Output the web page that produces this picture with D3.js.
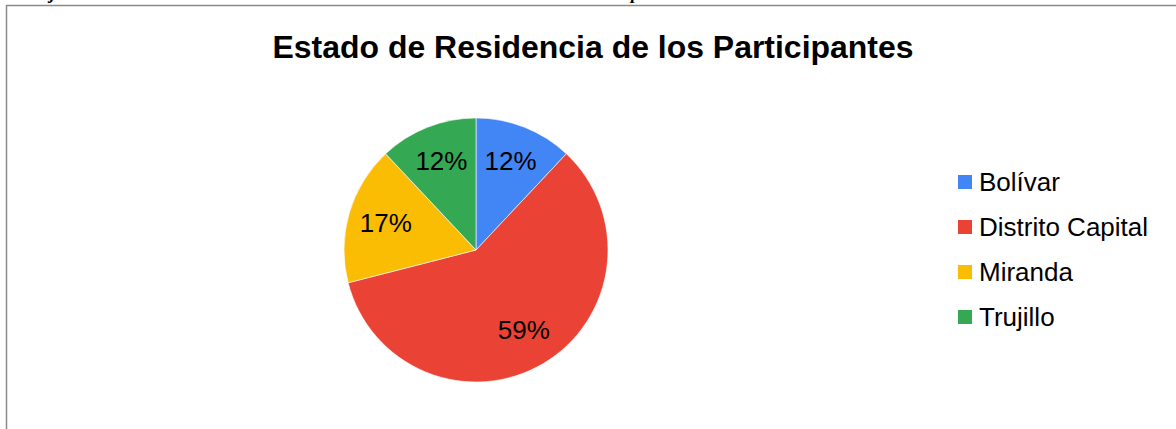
<!DOCTYPE html>
<html>
<head>
<meta charset="utf-8">
<script src="https://cdn.jsdelivr.net/npm/d3@7"></script>
<style>
  html, body { margin: 0; padding: 0; background: #fff; }
  svg { display: block; }
</style>
</head>
<body>
<div id="chart"></div>
<script>
// Estado de residencia - pie chart

const categories = ['Bolívar', 'Distrito Capital', 'Miranda', 'Trujillo'];
const percents = [12, 59, 17, 12];
const colors = ['#4285F4', '#EA4335', '#FBBC04', '#34A853'];
const titleText = 'Estado de Residencia de los Participantes';

const width = 1176;
const height = 429;

const svg = d3.select('#chart')
    .append('svg')
    .attr('width', width)
    .attr('height', height);

// cut-off caption line above the frame (only descenders show)
const cap = svg.append('text')
    .attr('y', -1)
    .attr('font-family', '"Liberation Serif", "Times New Roman", serif')
    .attr('font-style', 'italic')
    .attr('font-weight', 'bold')
    .attr('font-size', '18px')
    .attr('fill', '#000');
cap.append('tspan').attr('x', 50).text('j');
cap.append('tspan').attr('x', 631).text('p');

// frame
svg.append('path')
    .attr('d', `M6.5,${height} V5.5 H${width}`)
    .attr('fill', 'none')
    .attr('stroke', '#8a8a8a')
    .attr('stroke-width', 1.5);

// title
svg.append('text')
    .attr('x', 593)
    .attr('y', 58)
    .attr('text-anchor', 'middle')
    .attr('font-family', 'Arial, "Liberation Sans", sans-serif')
    .attr('font-weight', 'bold')
    .attr('font-size', '31px')
    .attr('textLength', 641)
    .attr('lengthAdjust', 'spacingAndGlyphs')
    .attr('fill', '#000')
    .text(titleText);

// pie
const cx = 476, cy = 250, radius = 132;
const data = categories.map((c, i) => ({ name: c, value: percents[i], color: colors[i] }));

const pie = d3.pie()
    .value(d => d.value)
    .sort(null);

const arc = d3.arc()
    .innerRadius(0)
    .outerRadius(radius);

const labelArc = d3.arc()
    .innerRadius(94)
    .outerRadius(94);

const g = svg.append('g')
    .attr('transform', `translate(${cx},${cy})`);

const arcs = pie(data);

g.selectAll('path.slice')
    .data(arcs)
    .join('path')
    .attr('class', 'slice')
    .attr('d', arc)
    .attr('fill', d => d.data.color)
    .attr('stroke', '#fff')
    .attr('stroke-width', 0.6);

g.selectAll('text.pct')
    .data(arcs)
    .join('text')
    .attr('class', 'pct')
    .attr('transform', d => `translate(${labelArc.centroid(d)})`)
    .attr('text-anchor', 'middle')
    .attr('dy', '0.3em')
    .attr('font-family', 'Arial, "Liberation Sans", sans-serif')
    .attr('font-size', '26px')
    .attr('fill', '#000')
    .text(d => d.data.value + '%');

// legend
const legendY = d3.scalePoint()
    .domain(categories)
    .range([182, 317]);

const legend = svg.append('g');
const items = legend.selectAll('g')
    .data(data)
    .join('g')
    .attr('transform', d => `translate(958,${legendY(d.name)})`);

items.append('rect')
    .attr('x', 0)
    .attr('y', -7)
    .attr('width', 14)
    .attr('height', 14)
    .attr('fill', d => d.color);

items.append('text')
    .attr('x', 21)
    .attr('y', 9)
    .attr('font-family', 'Arial, "Liberation Sans", sans-serif')
    .attr('font-size', '26px')
    .attr('fill', '#000')
    .text(d => d.name);
</script>
</body>
</html>
